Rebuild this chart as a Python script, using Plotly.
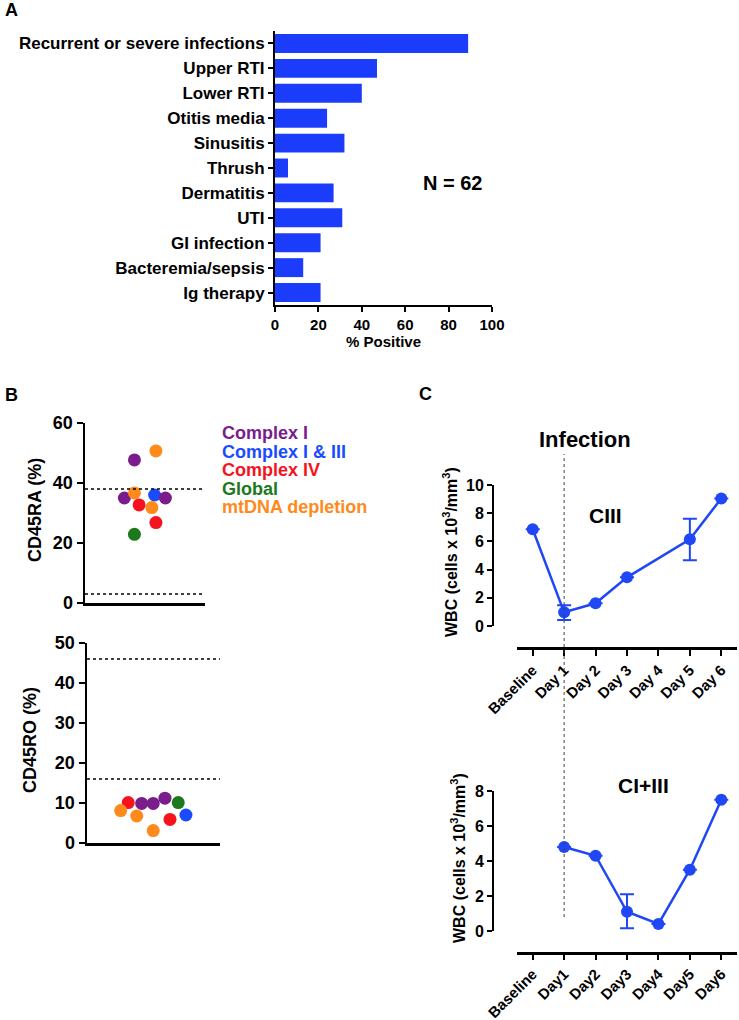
import plotly.graph_objects as go

W, H = 739, 1020
def fx(px): return px / W
def fy(py): return 1 - py / H

FONT = "Liberation Sans, Arial, Helvetica, sans-serif"

# ---------------- Panel A data ----------------
infection_types = ["Recurrent or severe infections", "Upper RTI", "Lower RTI", "Otitis media",
                   "Sinusitis", "Thrush", "Dermatitis", "UTI", "GI infection",
                   "Bacteremia/sepsis", "Ig therapy"]
pct_positive = [89, 47, 40, 24, 32, 6, 27, 31, 21, 13, 21]
a_xticks = [0, 20, 40, 60, 80, 100]

# ---------------- Panel B data ----------------
group_colors = {"Complex I": "#7b1c8c", "Complex I & III": "#1a4cff", "Complex IV": "#f5141e",
                "Global": "#1c7a1c", "mtDNA depletion": "#ff8a1c"}
legend_groups = ["Complex I", "Complex I & III", "Complex IV", "Global", "mtDNA depletion"]

cd45ra_vals = [47.7, 50.7, 35, 36.7, 36, 35, 32.7, 31.8, 26.8, 22.9]
cd45ra_groups = ["Complex I", "mtDNA depletion", "Complex I", "mtDNA depletion", "Complex I & III",
                 "Complex I", "Complex IV", "mtDNA depletion", "Complex IV", "Global"]
cd45ra_jitter = [0.412, 0.591, 0.328, 0.412, 0.58, 0.67, 0.451, 0.557, 0.591, 0.412]
cd45ra_ref = [3, 38]

cd45ro_vals = [10.1, 9.9, 9.9, 11.2, 10.1, 8.1, 6.75, 5.9, 7.0, 3.1]
cd45ro_groups = ["Complex IV", "Complex I", "Complex I", "Complex I", "Global",
                 "mtDNA depletion", "mtDNA depletion", "Complex IV", "Complex I & III", "mtDNA depletion"]
cd45ro_jitter = [0.31, 0.411, 0.498, 0.586, 0.686, 0.253, 0.374, 0.624, 0.744, 0.498]
cd45ro_ref = [16, 46]

# ---------------- Panel C data ----------------
days_c1 = ["Baseline", "Day 1", "Day 2", "Day 3", "Day 4", "Day 5", "Day 6"]
wbc_c1 = [6.86, 0.97, 1.61, 3.45, None, 6.15, 9.05]
wbc_c1_err_plus = [0, 0.5, 0, 0, 0, 1.46, 0]
wbc_c1_err_minus = [0, 0.54, 0, 0, 0, 1.49, 0]

days_c2 = ["Baseline", "Day1", "Day2", "Day3", "Day4", "Day5", "Day6"]
wbc_c2 = [None, 4.8, 4.3, 1.1, 0.4, 3.5, 7.5]
wbc_c2_err_plus = [0, 0, 0, 1.0, 0, 0, 0]
wbc_c2_err_minus = [0, 0, 0, 0.95, 0, 0, 0]

BLUE = "#1b3dfb"
LINE_BLUE = "#1f47f5"

fig = go.Figure()

# Panel A bars
fig.add_trace(go.Bar(x=pct_positive, y=infection_types, orientation="h",
                     marker=dict(color=BLUE, line=dict(width=0)),
                     width=0.76, xaxis="x", yaxis="y", showlegend=False))

# Panel B scatter
fig.add_trace(go.Scatter(x=cd45ra_jitter, y=cd45ra_vals, mode="markers",
                         marker=dict(size=13, color=[group_colors[g] for g in cd45ra_groups],
                                     line=dict(width=0), opacity=1),
                         xaxis="x2", yaxis="y2", showlegend=False, cliponaxis=False))
fig.add_trace(go.Scatter(x=cd45ro_jitter, y=cd45ro_vals, mode="markers",
                         marker=dict(size=13, color=[group_colors[g] for g in cd45ro_groups],
                                     line=dict(width=0), opacity=1),
                         xaxis="x4", yaxis="y4", showlegend=False, cliponaxis=False))

# Panel C lines
fig.add_trace(go.Scatter(x=days_c1, y=wbc_c1, mode="lines+markers", connectgaps=True,
                         line=dict(color=LINE_BLUE, width=2.5),
                         marker=dict(size=12, color=LINE_BLUE),
                         error_y=dict(type="data", symmetric=False, array=wbc_c1_err_plus,
                                      arrayminus=wbc_c1_err_minus, color=LINE_BLUE,
                                      thickness=2, width=7),
                         xaxis="x3", yaxis="y3", showlegend=False, cliponaxis=False))
fig.add_trace(go.Scatter(x=days_c2, y=wbc_c2, mode="lines+markers", connectgaps=False,
                         line=dict(color=LINE_BLUE, width=2.5),
                         marker=dict(size=12, color=LINE_BLUE),
                         error_y=dict(type="data", symmetric=False, array=wbc_c2_err_plus,
                                      arrayminus=wbc_c2_err_minus, color=LINE_BLUE,
                                      thickness=2, width=7),
                         xaxis="x5", yaxis="y5", showlegend=False, cliponaxis=False))

axis_common = dict(showgrid=False, zeroline=False, showline=True, linecolor="black",
                   ticks="outside", tickcolor="black", automargin=False, fixedrange=True)

layout = dict(
    width=W, height=H, margin=dict(l=0, r=0, t=0, b=0),
    paper_bgcolor="white", plot_bgcolor="rgba(0,0,0,0)",
    font=dict(family=FONT, size=16, color="black", weight="bold"),
    showlegend=False,
    # Panel A
    xaxis=dict(**axis_common, domain=[fx(275), fx(492)], range=[0, 100], tickvals=a_xticks,
               linewidth=2, ticklen=5, tickwidth=2, anchor="y",
               tickfont=dict(size=15, family=FONT, weight="bold")),
    yaxis=dict(**axis_common, domain=[fy(305), fy(31)], range=[len(infection_types) - 0.5, -0.5],
               type="category", linewidth=2, ticklen=5, tickwidth=2, anchor="x",
               tickfont=dict(size=17, family=FONT, weight="bold")),
    # Panel B top
    xaxis2=dict(**{**axis_common, "ticks": ""}, domain=[fx(85), fx(205)], range=[0, 1],
                showticklabels=False, linewidth=2.5, anchor="y2"),
    yaxis2=dict(**axis_common, domain=[fy(603), fy(423)], range=[0, 60], dtick=20,
                linewidth=2.5, ticklen=6, tickwidth=2.5, anchor="x2",
                tickfont=dict(size=18, family=FONT, weight="bold")),
    # Panel B bottom
    xaxis4=dict(**{**axis_common, "ticks": ""}, domain=[fx(87), fx(220)], range=[0, 1],
                showticklabels=False, linewidth=2.5, anchor="y4"),
    yaxis4=dict(**axis_common, domain=[fy(843), fy(643)], range=[0, 50], dtick=10,
                linewidth=2.5, ticklen=6, tickwidth=2.5, anchor="x4",
                tickfont=dict(size=18, family=FONT, weight="bold")),
    # Panel C top
    xaxis3=dict(**axis_common, domain=[fx(517), fx(737)], type="category",
                range=[-0.5, len(days_c1) - 0.5], anchor="free", position=fy(648),
                linewidth=2.5, ticklen=6, tickwidth=2, tickangle=-45,
                tickfont=dict(size=15, family=FONT, weight="bold")),
    yaxis3=dict(**axis_common, domain=[fy(626), fy(485)], range=[0, 10], dtick=2,
                anchor="free", position=fx(493), linewidth=2, ticklen=5, tickwidth=2,
                tickfont=dict(size=16, family=FONT, weight="bold")),
    # Panel C bottom
    xaxis5=dict(**axis_common, domain=[fx(517), fx(737)], type="category",
                range=[-0.5, len(days_c2) - 0.5], anchor="free", position=fy(953),
                linewidth=2.5, ticklen=5, tickwidth=2, tickangle=-45,
                tickfont=dict(size=15, family=FONT, weight="bold")),
    yaxis5=dict(**axis_common, domain=[fy(931), fy(791)], range=[0, 8], dtick=2,
                anchor="free", position=fx(493), linewidth=2, ticklen=5, tickwidth=2,
                tickfont=dict(size=16, family=FONT, weight="bold")),
)
fig.update_layout(**layout)

# Reference dotted lines panel B
shapes = []
for v in cd45ra_ref:
    shapes.append(dict(type="line", xref="x2 domain", x0=0, x1=1, yref="y2", y0=v, y1=v,
                       line=dict(color="black", width=1.5, dash="dot")))
for v in cd45ro_ref:
    shapes.append(dict(type="line", xref="x4 domain", x0=0, x1=1, yref="y4", y0=v, y1=v,
                       line=dict(color="black", width=1.5, dash="dot")))
# Infection onset line (Day 1) spanning both C panels
shapes.append(dict(type="line", xref="x3", x0=days_c1[1], x1=days_c1[1], yref="paper",
                   y0=fy(917), y1=fy(454), line=dict(color="#444444", width=1, dash="dot")))
fig.update_layout(shapes=shapes)

ann = []
def text(t, x, y, size, color="black", xanchor="center", yanchor="middle", angle=0):
    ann.append(dict(text=t, x=fx(x), y=fy(y), xref="paper", yref="paper", showarrow=False,
                    xanchor=xanchor, yanchor=yanchor, textangle=angle,
                    font=dict(size=size, color=color, family=FONT, weight="bold")))

text("A", 3, 10, 18, xanchor="left")
text("B", 3, 395, 18, xanchor="left")
text("C", 425, 394, 18)
text("% Positive", 383, 342, 15)
text("N = 62", 452, 183, 20)
text("CD45RA (%)", 35, 510, 18, angle=-90)
text("CD45RO (%)", 30, 740, 18, angle=-90)
for i, g in enumerate(legend_groups):
    text(g, 220, 433 + i * 18.6, 18, color=group_colors[g], xanchor="left")
text("Infection", 585, 439, 22)
text("CIII", 605, 515, 21)
text("CI+III", 643, 785, 21)
text("WBC (cells x 10<sup>3</sup>/mm<sup>3</sup>)", 450, 552, 16, angle=-90)
text("WBC (cells x 10<sup>3</sup>/mm<sup>3</sup>)", 458, 858, 16, angle=-90)
fig.update_layout(annotations=ann)

fig.write_html("out.html", config={"displayModeBar": False, "staticPlot": True},
               post_script="document.body.style.margin='0';document.body.style.overflow='hidden';")
